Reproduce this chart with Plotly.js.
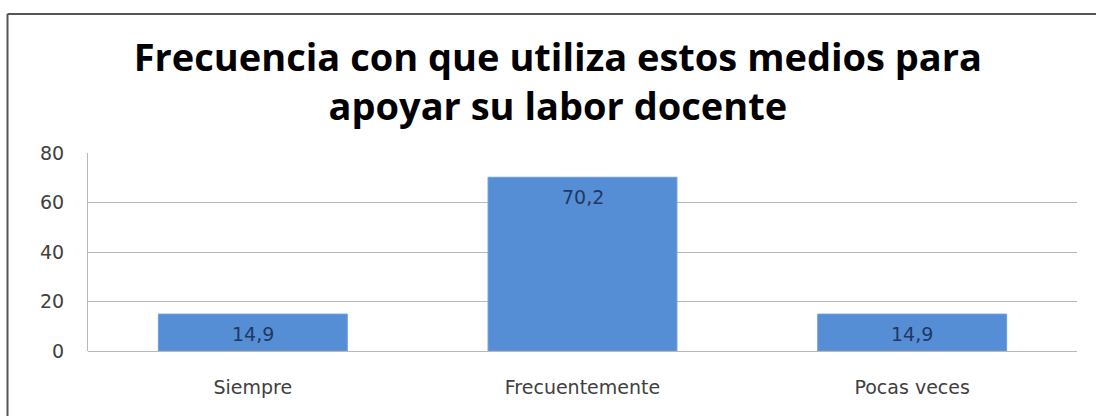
<!DOCTYPE html>
<html>
<head>
<meta charset="utf-8">
<script src="https://cdn.plot.ly/plotly-3.0.1.min.js"></script>
<style>
  html, body { margin: 0; padding: 0; background: #ffffff; overflow: hidden; }
  #chart { width: 1096px; height: 416px; }
</style>
</head>
<body>
<div id="chart"></div>
<script>
const categories = ["Siempre", "Frecuentemente", "Pocas veces"];
const values = [14.9, 70.2, 14.9];
const yTicks = [0, 20, 40, 60, 80];
const titleText = "Frecuencia con que utiliza estos medios para<br>apoyar su labor docente";

const W = 1096, H = 416;
const M = { l: 88, r: 19, t: 153, b: 65 };
const pw = W - M.l - M.r, ph = H - M.t - M.b;
// frame line positions (pixels) converted to paper coordinates
const fx = (7.5 - M.l) / pw;
const fy = (H - M.b - 14) / ph;

const trace = {
  type: "bar",
  x: categories,
  y: values,
  marker: { color: "#558ed5", line: { color: "#6d9de0", width: 1 } },
  hoverinfo: "none"
};

const labelAnnotations = categories.map((c, i) => ({
  x: c,
  y: values[i],
  xref: "x",
  yref: "y",
  text: values[i].toFixed(1).replace(".", ","),
  showarrow: false,
  yanchor: "middle",
  yshift: -20,
  font: { family: "DejaVu Sans, sans-serif", size: 19, color: "#1f3864" }
}));

const layout = {
  width: W,
  height: H,
  separators: ",.",
  margin: M,
  paper_bgcolor: "#ffffff",
  plot_bgcolor: "#ffffff",
  bargap: 0.427,
  showlegend: false,
  title: {
    text: titleText,
    font: { family: "Open Sans, sans-serif", size: 38, color: "#000000", weight: "bold" },
    x: 0.509,
    xanchor: "center",
    y: 1 - 71 / 416,
    yanchor: "top",
    yref: "container"
  },
  annotations: labelAnnotations,
  shapes: [
    { type: "line", xref: "paper", yref: "paper", x0: fx, x1: fx, y0: fy, y1: -1,
      line: { color: "#555555", width: 2 } },
    { type: "line", xref: "paper", yref: "paper", x0: fx, x1: 1.2, y0: fy, y1: fy,
      line: { color: "#555555", width: 2 } }
  ],
  xaxis: {
    type: "category",
    showgrid: false,
    showline: false,
    zeroline: false,
    ticks: "",
    tickfont: { family: "DejaVu Sans, sans-serif", size: 19, color: "#404040" },
    ticklabelstandoff: 23
  },
  yaxis: {
    range: [0, 80],
    tickvals: yTicks,
    ticktext: yTicks.map(String),
    showgrid: true,
    gridcolor: "#b8b8b8",
    gridwidth: 1,
    zeroline: true,
    zerolinecolor: "#b8b8b8",
    zerolinewidth: 1,
    showline: true,
    linecolor: "#b8b8b8",
    linewidth: 1,
    ticks: "",
    ticklabelstandoff: 19,
    tickfont: { family: "DejaVu Sans, sans-serif", size: 19, color: "#404040" }
  }
};

Plotly.newPlot("chart", [trace], layout, { staticPlot: true, displayModeBar: false });
</script>
</body>
</html>
